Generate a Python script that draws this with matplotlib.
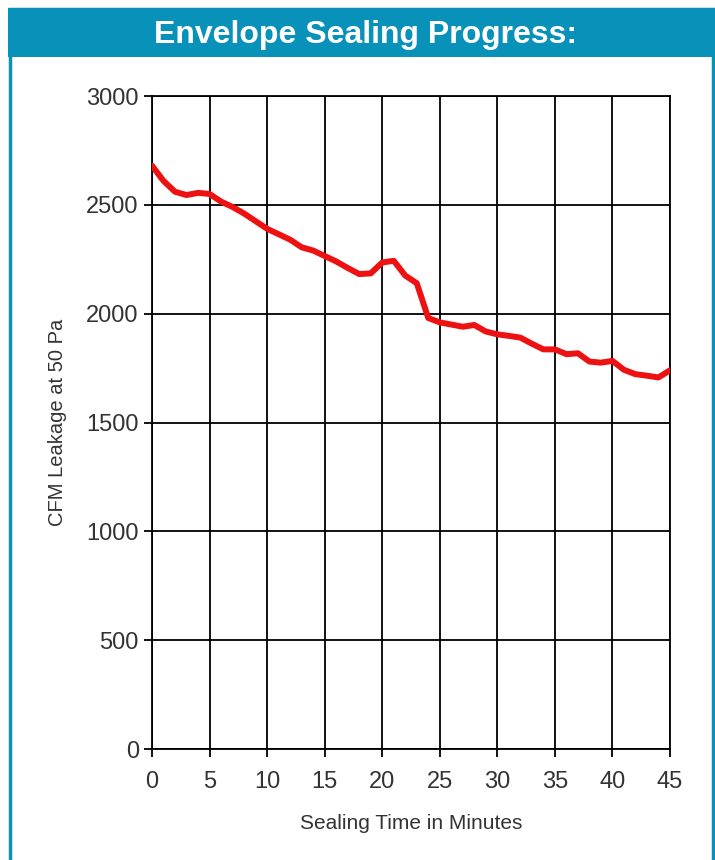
import matplotlib
matplotlib.use("Agg")
import matplotlib.pyplot as plt
from matplotlib.patches import Rectangle

title = "Envelope Sealing Progress:"
x_label = "Sealing Time in Minutes"
y_label = "CFM Leakage at 50 Pa"
minutes = list(range(0, 46))
leakage = [2680, 2610, 2560, 2545, 2555, 2550, 2515, 2490, 2460, 2425,
           2390, 2365, 2340, 2305, 2290, 2265, 2240, 2210, 2182, 2185,
           2235, 2243, 2175, 2140, 1980, 1960, 1950, 1940, 1948, 1918,
           1905, 1898, 1890, 1862, 1836, 1836, 1814, 1818, 1780, 1775,
           1783, 1742, 1722, 1715, 1707, 1740]
x_ticks = [0, 5, 10, 15, 20, 25, 30, 35, 40, 45]
y_ticks = [0, 500, 1000, 1500, 2000, 2500, 3000]

teal = "#0891B9"
W, H = 715, 860
plt.rcParams['font.family'] = ['Liberation Sans', 'DejaVu Sans']
fig = plt.figure(figsize=(W / 100, H / 100), dpi=100)
fig.patch.set_facecolor("white")

# frame and title bar
fig.patches.append(Rectangle((9.5 / W, -0.05), (713 - 9.5) / W, 1 - 9 / H + 0.05,
                             transform=fig.transFigure, facecolor="none",
                             edgecolor=teal, linewidth=2.5))
fig.patches.append(Rectangle((8 / W, 1 - 57 / H), (W - 8) / W, 49 / H,
                             transform=fig.transFigure, facecolor=teal,
                             edgecolor="none"))
fig.text((153 + 578) / 2 / W, 1 - 35 / H, title, color="white", fontsize=23,
         fontweight="bold", ha="center", va="center")

ax = fig.add_axes([152 / W, 1 - 749 / H, (670 - 152) / W, (749 - 96) / H])
ax.plot(minutes, leakage, color="#EE1111", linewidth=4.3, solid_joinstyle="round",
        solid_capstyle="round", zorder=3)
ax.set_xlim(0, 45)
ax.set_ylim(0, 3000)
ax.set_xticks(x_ticks)
ax.set_yticks(y_ticks)
ax.grid(True, color="black", linewidth=1.3)
for s in ax.spines.values():
    s.set_color("black")
    s.set_linewidth(1.3)
ax.tick_params(axis="both", colors="black", labelcolor="#333333", labelsize=17,
               length=6, width=1.3)
ax.tick_params(axis="x", pad=10)
ax.set_xlabel(x_label, fontsize=15, color="#333333", labelpad=15)
ax.set_ylabel(y_label, fontsize=14.5, color="#333333", labelpad=14)

fig.savefig("out.png", dpi=100)
